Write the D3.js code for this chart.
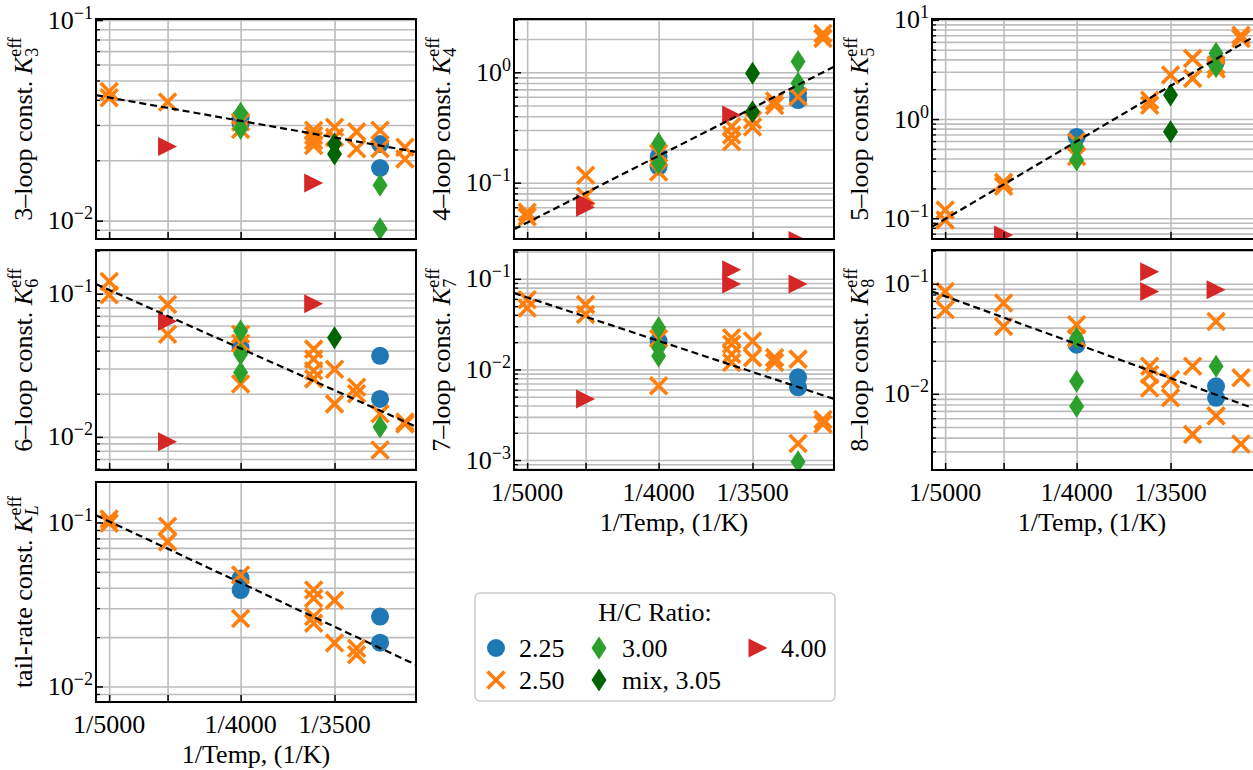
<!DOCTYPE html>
<html>
<head>
<meta charset="utf-8">
<script src="https://cdn.jsdelivr.net/npm/d3@7"></script>
<style>
body { margin: 0; background: #fff; }
text { font-family: "Liberation Serif", "DejaVu Serif", serif; fill: #000; }
</style>
</head>
<body>
<svg id="chart" width="1253" height="770"></svg>
<script>
// x axis: 1/T
var xGridTemps = [5000, 4500, 4000, 3500];
var xLabelTemps = [5000, 4000, 3500];
var xDomain = [0.000195, 0.0003167];

// H/C ratio series
var seriesNames = ["2.25", "2.50", "3.00", "mix, 3.05", "4.00"];
var seriesColors = ["#1f77b4", "#ff7f0e", "#2ca02c", "#006400", "#d62728"];
var seriesShapes = ["circle", "x", "diamond", "diamond", "triangle"];

// [series, T (K), K_eff]
var k3Points = [
    ["2.25", 4000, 0.0327], ["2.25", 4000, 0.0305], ["2.25", 3300, 0.0241], ["2.25", 3300, 0.0183],
    ["2.50", 5000, 0.044], ["2.50", 5000, 0.041], ["2.50", 4500, 0.039], ["2.50", 4000, 0.031], ["2.50", 4000, 0.0285],
    ["2.50", 3600, 0.0282], ["2.50", 3600, 0.0266], ["2.50", 3600, 0.0251], ["2.50", 3600, 0.0237],
    ["2.50", 3500, 0.0292], ["2.50", 3500, 0.026], ["2.50", 3400, 0.0277], ["2.50", 3400, 0.0228],
    ["2.50", 3300, 0.0282], ["2.50", 3300, 0.0228], ["2.50", 3200, 0.0232], ["2.50", 3200, 0.0203],
    ["3.00", 4000, 0.0343], ["3.00", 4000, 0.0288], ["3.00", 3300, 0.0150], ["3.00", 3300, 0.0091],
    ["mix, 3.05", 3500, 0.0241], ["mix, 3.05", 3500, 0.0215],
    ["4.00", 4500, 0.0234], ["4.00", 3600, 0.0154]
];
var k3Fit = [0.0422, 0.022];

var k4Points = [
    ["2.25", 4000, 0.172], ["2.25", 4000, 0.14], ["2.25", 3300, 0.645], ["2.25", 3300, 0.56],
    ["2.50", 5000, 0.054], ["2.50", 5000, 0.049], ["2.50", 4500, 0.117], ["2.50", 4500, 0.075],
    ["2.50", 4000, 0.185], ["2.50", 4000, 0.125], ["2.50", 3600, 0.322], ["2.50", 3600, 0.27], ["2.50", 3600, 0.235],
    ["2.50", 3500, 0.37], ["2.50", 3500, 0.32], ["2.50", 3400, 0.55], ["2.50", 3400, 0.50],
    ["2.50", 3300, 0.60], ["2.50", 3200, 2.25], ["2.50", 3200, 2.03],
    ["3.00", 4000, 0.227], ["3.00", 4000, 0.15], ["3.00", 3300, 1.25], ["3.00", 3300, 0.795],
    ["mix, 3.05", 3500, 0.98], ["mix, 3.05", 3500, 0.44],
    ["4.00", 4500, 0.065], ["4.00", 4500, 0.060], ["4.00", 3600, 0.41], ["4.00", 3300, 0.030]
];
var k4Fit = [0.0378, 1.124];

var k5Points = [
    ["2.25", 4000, 0.66], ["2.25", 3300, 3.78],
    ["2.50", 5000, 0.121], ["2.50", 5000, 0.096], ["2.50", 4500, 0.23], ["2.50", 4500, 0.21],
    ["2.50", 4000, 0.59], ["2.50", 4000, 0.42], ["2.50", 3600, 1.55], ["2.50", 3600, 1.38],
    ["2.50", 3500, 2.78], ["2.50", 3400, 4.09], ["2.50", 3400, 2.57],
    ["2.50", 3300, 3.5], ["2.50", 3300, 3.2], ["2.50", 3200, 7.0], ["2.50", 3200, 6.5],
    ["3.00", 4000, 0.53], ["3.00", 4000, 0.386], ["3.00", 3300, 4.6], ["3.00", 3300, 3.37],
    ["mix, 3.05", 3500, 1.75], ["mix, 3.05", 3500, 0.745],
    ["4.00", 4500, 0.0677]
];
var k5Fit = [0.082, 6.6];

var k6Points = [
    ["2.25", 4000, 0.042], ["2.25", 3300, 0.0368], ["2.25", 3300, 0.0184],
    ["2.50", 5000, 0.1216], ["2.50", 5000, 0.0984], ["2.50", 4500, 0.0839], ["2.50", 4500, 0.052],
    ["2.50", 4000, 0.052], ["2.50", 4000, 0.045], ["2.50", 4000, 0.0234],
    ["2.50", 3600, 0.041], ["2.50", 3600, 0.035], ["2.50", 3600, 0.029], ["2.50", 3600, 0.0254],
    ["2.50", 3500, 0.0297], ["2.50", 3500, 0.017], ["2.50", 3400, 0.0222], ["2.50", 3400, 0.020],
    ["2.50", 3300, 0.0145], ["2.50", 3300, 0.0081], ["2.50", 3200, 0.0127], ["2.50", 3200, 0.0123],
    ["3.00", 4000, 0.0548], ["3.00", 4000, 0.0378], ["3.00", 4000, 0.0282], ["3.00", 3300, 0.0117],
    ["mix, 3.05", 3500, 0.0493],
    ["4.00", 4500, 0.0643], ["4.00", 4500, 0.00923], ["4.00", 3600, 0.0849]
];
var k6Fit = [0.1167, 0.0118];

var k7Points = [
    ["2.25", 4000, 0.0206], ["2.25", 3300, 0.0082], ["2.25", 3300, 0.00635],
    ["2.50", 5000, 0.0589], ["2.50", 5000, 0.0477], ["2.50", 4500, 0.0519], ["2.50", 4500, 0.0403],
    ["2.50", 4000, 0.022], ["2.50", 4000, 0.0066],
    ["2.50", 3600, 0.0224], ["2.50", 3600, 0.019], ["2.50", 3600, 0.0147], ["2.50", 3600, 0.0119],
    ["2.50", 3500, 0.0206], ["2.50", 3500, 0.0135], ["2.50", 3400, 0.0135], ["2.50", 3400, 0.0119],
    ["2.50", 3300, 0.0130], ["2.50", 3300, 0.00152], ["2.50", 3200, 0.0028], ["2.50", 3200, 0.0025],
    ["3.00", 4000, 0.0289], ["3.00", 4000, 0.0174], ["3.00", 4000, 0.0141], ["3.00", 3300, 0.000957],
    ["4.00", 4500, 0.00473], ["4.00", 3600, 0.1256], ["4.00", 3600, 0.0875], ["4.00", 3300, 0.0875]
];
var k7Fit = [0.0697, 0.00473];

var k8Points = [
    ["2.25", 4000, 0.028], ["2.25", 3300, 0.0117], ["2.25", 3300, 0.0092],
    ["2.50", 5000, 0.0852], ["2.50", 5000, 0.058], ["2.50", 4500, 0.0668], ["2.50", 4500, 0.041],
    ["2.50", 4000, 0.0425], ["2.50", 4000, 0.032],
    ["2.50", 3600, 0.0178], ["2.50", 3600, 0.015], ["2.50", 3600, 0.0113],
    ["2.50", 3500, 0.0135], ["2.50", 3500, 0.0092], ["2.50", 3400, 0.0178], ["2.50", 3400, 0.00428],
    ["2.50", 3300, 0.0455], ["2.50", 3300, 0.0063], ["2.50", 3200, 0.014], ["2.50", 3200, 0.0035],
    ["3.00", 4000, 0.0322], ["3.00", 4000, 0.013], ["3.00", 4000, 0.0077], ["3.00", 3300, 0.0178],
    ["4.00", 3600, 0.129], ["4.00", 3600, 0.0852], ["4.00", 3300, 0.0882]
];
var k8Fit = [0.0852, 0.00747];

var kLPoints = [
    ["2.25", 4000, 0.0456], ["2.25", 4000, 0.0387], ["2.25", 3300, 0.0267], ["2.25", 3300, 0.0185],
    ["2.50", 5000, 0.105], ["2.50", 5000, 0.099], ["2.50", 4500, 0.095], ["2.50", 4500, 0.0762],
    ["2.50", 4000, 0.0478], ["2.50", 4000, 0.026],
    ["2.50", 3600, 0.0387], ["2.50", 3600, 0.0345], ["2.50", 3600, 0.0267], ["2.50", 3600, 0.0243],
    ["2.50", 3500, 0.0336], ["2.50", 3500, 0.0184], ["2.50", 3400, 0.0171], ["2.50", 3400, 0.0156]
];
var kLFit = [0.1107, 0.01355];

var panels = [
    {name: "3–loop const. ", sub: "3", col: 0, row: 0, yDomain: [0.0081, 0.1012], points: k3Points, fit: k3Fit},
    {name: "4–loop const. ", sub: "4", col: 1, row: 0, yDomain: [0.0309, 3.04], points: k4Points, fit: k4Fit},
    {name: "5–loop const. ", sub: "5", col: 2, row: 0, yDomain: [0.0618, 10.2], points: k5Points, fit: k5Fit},
    {name: "6–loop const. ", sub: "6", col: 0, row: 1, yDomain: [0.00587, 0.2018], points: k6Points, fit: k6Fit},
    {name: "7–loop const. ", sub: "7", col: 1, row: 1, yDomain: [0.000777, 0.208], points: k7Points, fit: k7Fit, xLabels: true},
    {name: "8–loop const. ", sub: "8", col: 2, row: 1, yDomain: [0.00203, 0.203], points: k8Points, fit: k8Fit, xLabels: true},
    {name: "tail-rate const. ", sub: "L", subItalic: true, col: 0, row: 2, yDomain: [0.00804, 0.1766], points: kLPoints, fit: kLFit, xLabels: true}
];

var svg = d3.select("#chart");
var defs = svg.append("defs");
var pw = 320, ph = 220;
var colX = [96, 514, 932], rowY = [19, 250, 482];
var fontSize = 26, smallSize = 18;

var x = d3.scaleLinear().domain(xDomain).range([0, pw]);

function shapePath(shape) {
    if (shape == "circle") return d3.symbol(d3.symbolCircle, Math.PI * 9 * 9)();
    if (shape == "x") return "M-8.5,-8.5L8.5,8.5M8.5,-8.5L-8.5,8.5";
    if (shape == "diamond") return "M0,-11.5L7.5,0L0,11.5L-7.5,0Z";
    return "M-9.5,-9.5L9.5,0L-9.5,9.5Z";
}

function drawMarker(sel, si) {
    sel.attr("d", shapePath(seriesShapes[si]));
    if (seriesShapes[si] == "x") {
        sel.attr("fill", "none").attr("stroke", seriesColors[si]).attr("stroke-width", 3.6);
    } else {
        sel.attr("fill", seriesColors[si]);
    }
}

function styleLines(g, color, width) {
    g.select(".domain").remove();
    g.selectAll("line").attr("stroke", color).attr("stroke-width", width);
}

panels.forEach(function(p, pi) {
    var w = p.col == 2 ? pw + 6 : pw;
    var g = svg.append("g").attr("transform", "translate(" + colX[p.col] + "," + rowY[p.row] + ")");
    var y = d3.scaleLog().domain(p.yDomain).range([ph, 0]);

    // log ticks 1..9 x 10^e inside the domain
    var all = [];
    var e0 = Math.floor(Math.log10(p.yDomain[0])), e1 = Math.ceil(Math.log10(p.yDomain[1]));
    for (var e = e0; e <= e1; e++) {
        for (var k = 1; k < 10; k++) {
            var v = +(k + "e" + e);
            if (v >= p.yDomain[0] && v <= p.yDomain[1]) all.push(v);
        }
    }
    var isMajor = function(v) { return Math.abs(Math.log10(v) - Math.round(Math.log10(v))) < 1e-9; };
    var major = all.filter(isMajor);
    var minor = all.filter(function(v) { return !isMajor(v); });
    var xTicks = xGridTemps.map(function(t) { return 1 / t; });

    // grid
    g.append("g").call(d3.axisLeft(y).tickValues(all).tickSize(-w).tickFormat(""))
        .call(styleLines, "#bcbcbc", 1.6);
    g.append("g").attr("transform", "translate(0," + ph + ")")
        .call(d3.axisBottom(x).tickValues(xTicks).tickSize(-ph).tickFormat(""))
        .call(styleLines, "#bcbcbc", 1.6);

    // data
    defs.append("clipPath").attr("id", "clip" + pi)
        .append("rect").attr("width", w).attr("height", ph);
    var dg = g.append("g").attr("clip-path", "url(#clip" + pi + ")");
    seriesNames.forEach(function(s, si) {
        dg.selectAll(null)
            .data(p.points.filter(function(d) { return d[0] == s; }))
            .enter().append("path")
            .attr("transform", function(d) { return "translate(" + x(1 / d[1]) + "," + y(d[2]) + ")"; })
            .call(drawMarker, si);
    });

    // fitted line
    dg.append("path")
        .datum([[xDomain[0], p.fit[0]], [xDomain[1], p.fit[1]]])
        .attr("d", d3.line().x(function(d) { return x(d[0]); }).y(function(d) { return y(d[1]); }))
        .attr("fill", "none").attr("stroke", "#000").attr("stroke-width", 2.2)
        .attr("stroke-dasharray", "7,4");

    // inward ticks
    g.append("g").call(d3.axisLeft(y).tickValues(minor).tickSize(-4).tickFormat(""))
        .call(styleLines, "#000", 1.3);
    g.append("g").call(d3.axisLeft(y).tickValues(major).tickSize(-7).tickFormat(""))
        .call(styleLines, "#000", 1.5);
    g.append("g").attr("transform", "translate(0," + ph + ")")
        .call(d3.axisBottom(x).tickValues(xTicks).tickSize(-7).tickFormat(""))
        .call(styleLines, "#000", 1.5);

    // frame
    g.append("rect").attr("width", w).attr("height", ph)
        .attr("fill", "none").attr("stroke", "#000").attr("stroke-width", 2);

    // y tick labels 10^e
    major.forEach(function(v) {
        var ex = Math.round(Math.log10(v));
        var t = g.append("text").attr("x", -3).attr("y", y(v) + 8.5)
            .attr("text-anchor", "end").attr("font-size", fontSize);
        t.append("tspan").text("10");
        t.append("tspan").attr("font-size", smallSize).attr("dy", -10)
            .text(ex < 0 ? "−" + (-ex) : String(ex));
    });

    // y label
    var lab = g.append("text")
        .attr("transform", "translate(-64," + (ph / 2) + ") rotate(-90)")
        .attr("text-anchor", "middle").attr("font-size", fontSize);
    lab.append("tspan").text(p.name);
    lab.append("tspan").attr("font-style", "italic").text("K");
    var sup = lab.append("tspan").attr("font-size", smallSize).attr("dy", -11).text("eff");
    var sb = lab.append("tspan").attr("font-size", smallSize).attr("dy", 17).text(p.sub);
    if (p.subItalic) sb.attr("font-style", "italic");
    sb.attr("dx", -sup.node().getComputedTextLength());

    // x tick labels and title
    if (p.xLabels) {
        xLabelTemps.forEach(function(t) {
            g.append("text").attr("x", x(1 / t)).attr("y", ph + 31)
                .attr("text-anchor", "middle").attr("font-size", fontSize)
                .text("1/" + t);
        });
        g.append("text").attr("x", pw / 2).attr("y", ph + 61)
            .attr("text-anchor", "middle").attr("font-size", fontSize)
            .text("1/Temp, (1/K)");
    }
});

// legend
var lg = svg.append("g").attr("transform", "translate(475,593)");
lg.append("rect").attr("width", 360).attr("height", 108).attr("rx", 5)
    .attr("fill", "#fff").attr("stroke", "#cccccc").attr("stroke-width", 1.5);
lg.append("text").attr("x", 180).attr("y", 28).attr("text-anchor", "middle")
    .attr("font-size", fontSize).text("H/C Ratio:");
var legCols = [21, 124, 283];
var legRows = [55, 87];
seriesNames.forEach(function(s, si) {
    var cx = legCols[Math.floor(si / 2)], cy = legRows[si % 2];
    lg.append("path").attr("transform", "translate(" + cx + "," + cy + ")").call(drawMarker, si);
    lg.append("text").attr("x", cx + 23).attr("y", cy + 8.5)
        .attr("font-size", fontSize).text(s);
});
</script>
</body>
</html>
